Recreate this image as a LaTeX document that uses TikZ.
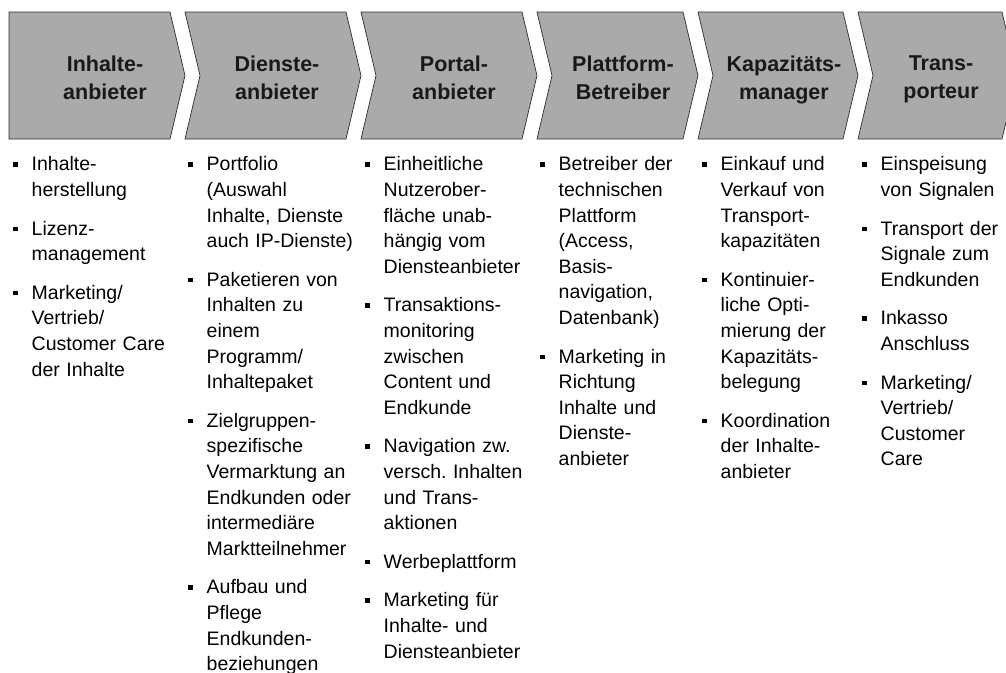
\documentclass[tikz,border=0pt]{standalone}
\usepackage{fontspec}
\setmainfont{Liberation Sans}
\usepackage{xcolor}
\definecolor{chevFill}{RGB}{170,170,170}
\definecolor{chevEdge}{RGB}{45,45,45}
\definecolor{headText}{RGB}{25,25,25}
\newcommand{\bodysize}{\fontsize{19.5}{25.6}\selectfont}
\newcommand{\itm}{\par\hangindent=18.5pt\hangafter=1\noindent
    \makebox[18.5pt][l]{\raisebox{4pt}{\rule{4.5pt}{4.5pt}}}\strut}
\tikzset{
    chev/.style={fill=chevFill,draw=chevEdge,line width=0.7pt,line join=miter},
    head/.style={font=\fontsize{21.5}{28}\selectfont\bfseries,align=center,
        text=headText,inner sep=0pt,execute at begin node={\strut},execute at end node={\strut}},
    col/.style={anchor=north west,inner sep=0pt,text width=180pt,font=\bodysize,
        execute at begin node={\raggedright\frenchspacing\let\\\newline\setlength{\parskip}{13pt}}}
}
\begin{document}
\begin{tikzpicture}[x=1pt,y=-1pt]
    \useasboundingbox (0,0) rectangle (1006,672);

    % value chain arrows
    \draw[chev] (9,12) -- (170,12) -- (185,75.5) -- (170,139) -- (9,139) -- cycle;
    \draw[chev] (185,12) -- (346,12) -- (361,75.5) -- (346,139) -- (185,139) -- (200,75.5) -- cycle;
    \draw[chev] (361,12) -- (522,12) -- (537,75.5) -- (522,139) -- (361,139) -- (376,75.5) -- cycle;
    \draw[chev] (537,12) -- (683,12) -- (698,75.5) -- (683,139) -- (537,139) -- (552,75.5) -- cycle;
    \draw[chev] (698,12) -- (843,12) -- (858,75.5) -- (843,139) -- (698,139) -- (713,75.5) -- cycle;
    \draw[chev] (858,12) -- (1002,12) -- (1017,75.5) -- (1002,139) -- (858,139) -- (873,75.5) -- cycle;

    % roles
    \node[head] (inhalte)    at (105,81.5) {Inhalte-\\anbieter};
    \node[head] (dienste)    at (277,81.5) {Dienste-\\anbieter};
    \node[head] (portal)     at (454,81.5) {Portal-\\anbieter};
    \node[head] (plattform)  at (623,81.5) {Plattform-\\Betreiber};
    \node[head] (kapazitaet) at (784,81.5) {Kapazitäts-\\manager};
    \node[head] (transport)  at (941,81.5) {Trans-\\porteur};

    % tasks
    \node[col] (inhalteList) at (13,132) {%
        \itm Inhalte-\\herstellung
        \itm Lizenz-\\management
        \itm Marketing/\\Vertrieb/\\Customer Care\\der Inhalte\par};
    \node[col] (diensteList) at (188,132) {%
        \itm Portfolio\\(Auswahl\\Inhalte, Dienste\\auch IP-Dienste)
        \itm Paketieren von\\Inhalten zu\\einem\\Programm/\\Inhaltepaket
        \itm Zielgruppen-\\spezifische\\Vermarktung an\\Endkunden oder\\intermediäre\\Marktteilnehmer
        \itm Aufbau und\\Pflege\\Endkunden-\\beziehungen\par};
    \node[col] (portalList) at (365,132) {%
        \itm Einheitliche\\Nutzerober-\\fläche unab-\\hängig vom\\Diensteanbieter
        \itm Transaktions-\\monitoring\\zwischen\\Content und\\Endkunde
        \itm Navigation zw.\\versch. Inhalten\\und Trans-\\aktionen
        \itm Werbeplattform
        \itm Marketing für\\Inhalte- und\\Diensteanbieter\par};
    \node[col] (plattformList) at (540,132) {%
        \itm Betreiber der\\technischen\\Plattform\\(Access,\\Basis-\\navigation,\\Datenbank)
        \itm Marketing in\\Richtung\\Inhalte und\\Dienste-\\anbieter\par};
    \node[col] (kapazitaetList) at (702,132) {%
        \itm Einkauf und\\Verkauf von\\Transport-\\kapazitäten
        \itm Kontinuier-\\liche Opti-\\mierung der\\Kapazitäts-\\belegung
        \itm Koordination\\der Inhalte-\\anbieter\par};
    \node[col] (transportList) at (862,132) {%
        \itm Einspeisung\\von Signalen
        \itm Transport der\\Signale zum\\Endkunden
        \itm Inkasso\\Anschluss
        \itm Marketing/\\Vertrieb/\\Customer\\Care\par};
\end{tikzpicture}
\end{document}
